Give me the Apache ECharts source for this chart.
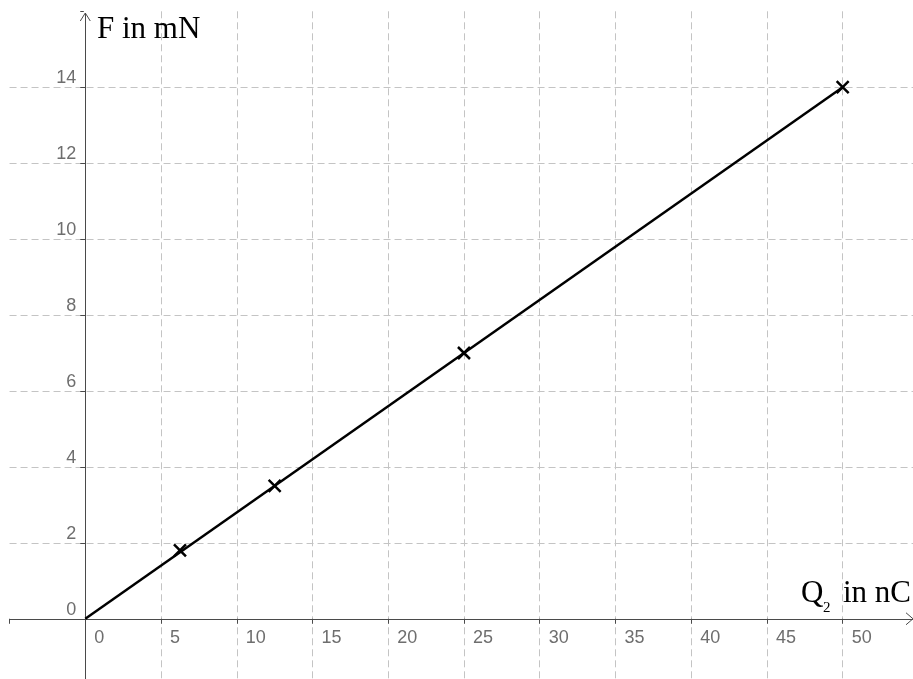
<!DOCTYPE html>
<html>
<head>
<meta charset="utf-8">
<script src="https://cdn.jsdelivr.net/npm/echarts@6/dist/echarts.min.js"></script>
<style>
html,body{margin:0;padding:0;background:#fff;width:913px;height:679px;overflow:hidden;position:relative;}
#main{position:absolute;left:0;top:0;width:940px;height:700px;}
</style>
</head>
<body>
<div id="main"></div>
<script>
// Data
const lineQ = [0, 50];
const lineF = [0, 14];
const pointsQ = [6.25, 12.5, 25, 50];
const pointsF = [1.8, 3.5, 7, 14];
const xTitle = ['Q', '2', 'in nC'];
const yTitle = 'F in mN';

const chart = echarts.init(document.getElementById('main'), null, {renderer: 'canvas'});

const axisColor = '#4a4a4a';
const labelColor = '#6e6e6e';
const gridColor = '#c4c4c4';

const option = {
  animation: false,
  backgroundColor: '#fff',
  grid: [
    // full view: grid lines, axis lines, ticks
    {left: 9.56, right: 21.6, top: 11.3, bottom: 5.3, outerBoundsMode: 'none'},
    // first quadrant: tick labels anchored at the zero lines
    {left: 85.3, right: 21.6, top: 11.3, bottom: 81.2, outerBoundsMode: 'none'}
  ],
  xAxis: [
    {
      gridIndex: 0, type: 'value', min: -5, max: 55, interval: 5,
      axisLine: {onZero: true, lineStyle: {color: axisColor, width: 1}},
      axisTick: {show: true, length: 5, lineStyle: {color: axisColor}},
      axisLabel: {show: false},
      splitLine: {show: true, showMinLine: false, showMaxLine: false,
        lineStyle: {color: gridColor, type: [7, 4], width: 1}}
    },
    {
      gridIndex: 1, type: 'value', min: 0, max: 55, interval: 5,
      axisLine: {show: false}, axisTick: {show: false}, splitLine: {show: false},
      axisLabel: {
        color: labelColor, fontFamily: 'Liberation Sans', fontSize: 18,
        align: 'left', padding: [0, 0, 0, 9], margin: 10,
        showMinLabel: true, showMaxLabel: true,
        formatter: v => (v > 50) ? '' : String(v)
      }
    }
  ],
  yAxis: [
    {
      gridIndex: 0, type: 'value', min: -2, max: 16, interval: 2,
      axisLine: {onZero: true, lineStyle: {color: axisColor, width: 1}},
      axisTick: {show: true, length: 5, lineStyle: {color: axisColor}},
      axisLabel: {show: false},
      splitLine: {show: true, showMinLine: false, showMaxLine: false,
        lineStyle: {color: gridColor, type: [7, 4], width: 1}}
    },
    {
      gridIndex: 1, type: 'value', min: 0, max: 16, interval: 2,
      axisLine: {show: false}, axisTick: {show: false}, splitLine: {show: false},
      axisLabel: {
        color: labelColor, fontFamily: 'Liberation Sans', fontSize: 18,
        verticalAlign: 'bottom', padding: [0, 0, 0, 0], margin: 9,
        showMinLabel: true, showMaxLabel: true,
        formatter: v => (v > 14) ? '' : String(v)
      }
    }
  ],
  series: [
    {
      type: 'line', xAxisIndex: 0, yAxisIndex: 0,
      data: lineQ.map((q, i) => [q, lineF[i]]),
      showSymbol: false,
      lineStyle: {color: '#000', width: 2.5},
      z: 3
    },
    {
      type: 'scatter', xAxisIndex: 0, yAxisIndex: 0,
      data: pointsQ.map((q, i) => [q, pointsF[i]]),
      symbol: 'path://M0,0L10,10M10,0L0,10',
      symbolSize: 12,
      itemStyle: {color: 'rgba(0,0,0,0)', borderColor: '#000', borderWidth: 2.5, opacity: 1},
      z: 4
    }
  ]
};
chart.setOption(option);

const org = chart.convertToPixel({xAxisIndex: 0, yAxisIndex: 0}, [0, 0]);
const arrowTop = 13;
chart.setOption({
  graphic: [
    {type: 'rect', shape: {x: org[0] - 1.5, y: 0, width: 3, height: arrowTop}, style: {fill: '#fff'}, z: 50},
    {type: 'polyline', shape: {points: [[org[0] - 5, arrowTop + 8], [org[0], arrowTop], [org[0] + 5, arrowTop + 8]]},
      style: {stroke: axisColor, lineWidth: 1, fill: null}, z: 51},
    {type: 'polyline', shape: {points: [[906, org[1] - 6], [913, org[1]], [906, org[1] + 6]]},
      style: {stroke: axisColor, lineWidth: 1, fill: null}, z: 51},
    {type: 'text', left: 97, top: 14,
      style: {text: yTitle, font: '31px "Liberation Serif"', fill: '#000'}, z: 60},
    {type: 'text', left: 801, top: 578,
      style: {text: xTitle[0], font: '31px "Liberation Serif"', fill: '#000'}, z: 60},
    {type: 'text', left: 823, top: 601,
      style: {text: xTitle[1], font: '15px "Liberation Serif"', fill: '#000'}, z: 60},
    {type: 'text', left: 843, top: 578,
      style: {text: xTitle[2], font: '31px "Liberation Serif"', fill: '#000'}, z: 60}
  ]
});
</script>
</body>
</html>
